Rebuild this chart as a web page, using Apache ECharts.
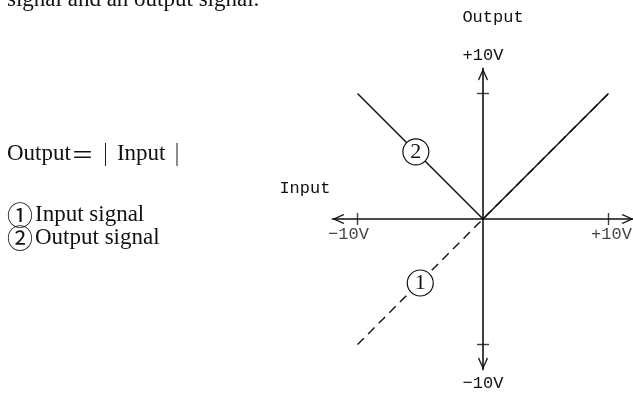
<!DOCTYPE html>
<html>
<head>
<meta charset="utf-8">
<script src="https://cdn.jsdelivr.net/npm/echarts@6/dist/echarts.min.js"></script>
<style>
    html, body { margin: 0; padding: 0; background: #fff; }
    #main { width: 633px; height: 394px; }
</style>
</head>
<body>
<div id="main"></div>
<script>
// 数据
const inputX = [-10, 0, 10]
const inputY = [-10, 0, 10]
const outputX = [-10, 0, 10]
const outputY = [10, 0, 10]
const tickValues = [-10, 10]
const xTickLabels = ['−10V', '+10V']
const xName = 'Input'
const yName = 'Output'
const yTopLabel = '+10V'
const yBottomLabel = '−10V'
const markerX = [-5.0, -5.35]
const markerY = [-5.1, 5.35]
const markerText = ['1', '2']
const noteLines = ['signal and an output signal.', 'Output＝｜Input｜', '①Input signal', '②Output signal']
const noteY = [0, 154, 215, 238]

const ink = '#111'
const mono = '"Liberation Mono", "DejaVu Sans Mono", monospace'
const serif = '"Liberation Serif", "Noto Sans CJK SC", serif'
const cjk = '"Noto Sans CJK SC", sans-serif'
// 开口箭头
const arrow = 'path://M5,0 L10,11 L9,12 L5,3 L1,12 L0,11 Z'

function zip(xs, ys) {
    return xs.map((x, i) => [x, ys[i]])
}

// 圆圈数字用大一点的中文字体
function richNote(t) {
    return t.replace(/([①②])/g, '{c|$1}').replace(/([＝｜])/g, '{w|$1}')
}

;(function () {
    let chart = echarts.init(document.getElementById('main'))
    // 坐标轴公共样式
    let baseAxis = {
        type: 'value',
        min: -12,
        max: 12,
        splitLine: { show: false },
        axisLabel: { show: false },
        axisTick: { show: false }
    }
    let mainLine = {
        show: true,
        onZero: true,
        onZeroAxisIndex: 0,
        symbol: [arrow, arrow],
        symbolSize: [10, 12],
        symbolOffset: [6, -6],
        lineStyle: { color: ink, width: 1.6 }
    }
    let nameOnly = { show: false, onZero: true, onZeroAxisIndex: 1 }
    let option = {
        animation: false,
        grid: {
            left: 332.4,
            top: 68.4,
            width: 301.2,
            height: 301.2,
            containLabel: false,
            outerBoundsMode: 'none'
        },
        xAxis: [
            Object.assign({}, baseAxis, { axisLine: mainLine }),
            Object.assign({}, baseAxis, {
                axisLine: nameOnly,
                name: xName,
                nameLocation: 'start',
                nameGap: 2,
                nameTextStyle: {
                    color: ink,
                    fontFamily: mono,
                    fontSize: 17,
                    lineHeight: 20,
                    verticalAlign: 'bottom',
                    padding: [0, 0, 21, 0]
                }
            })
        ],
        yAxis: [
            Object.assign({}, baseAxis, {
                axisLine: mainLine,
                name: '{a|' + yName + '}\n{b|' + yTopLabel + '}',
                nameLocation: 'end',
                nameGap: 3,
                nameTextStyle: {
                    rich: {
                        a: { fontFamily: mono, fontSize: 17, color: ink, lineHeight: 55, padding: [0, 0, 0, 20] },
                        b: { fontFamily: mono, fontSize: 17, color: ink, lineHeight: 20 }
                    }
                }
            }),
            Object.assign({}, baseAxis, {
                axisLine: nameOnly,
                name: yBottomLabel,
                nameLocation: 'start',
                nameGap: 4,
                nameTextStyle: {
                    color: ink,
                    fontFamily: mono,
                    fontSize: 17,
                    lineHeight: 20
                }
            })
        ],
        // 左侧说明文字
        graphic: noteLines.map((t, i) => ({
            type: 'text',
            x: 7,
            y: noteY[i],
            style: {
                text: richNote(t),
                font: '23px ' + serif,
                fill: ink,
                verticalAlign: 'middle',
                rich: {
                    c: { fontFamily: cjk, fontSize: 26, fill: ink, padding: [0, 2, 0, 0] },
                    w: { fontFamily: cjk, fontSize: 23, fill: ink }
                }
            }
        })),
        series: [
            {
                name: 'Input signal',
                type: 'line',
                data: zip(inputX, inputY),
                symbol: 'none',
                z: 2,
                lineStyle: { color: ink, width: 1.4, type: [9, 6] }
            },
            {
                name: 'Output signal',
                type: 'line',
                data: zip(outputX, outputY),
                symbol: 'none',
                z: 3,
                lineStyle: { color: ink, width: 1.5 }
            },
            {
                // x 轴刻度(十字) + 标签
                type: 'scatter',
                data: tickValues.map((v, i) => [v, 0, xTickLabels[i]]),
                symbol: 'rect',
                symbolSize: [1.4, 12],
                z: 5,
                itemStyle: { color: ink },
                label: {
                    show: true,
                    position: 'bottom',
                    distance: 1,
                    formatter: p => (p.data[0] < 0 ? '{l|' : '{r|') + p.data[2] + '}',
                    rich: {
                        l: { fontFamily: mono, fontSize: 17, color: ink, padding: [0, 18, 0, 0] },
                        r: { fontFamily: mono, fontSize: 17, color: ink, padding: [0, 0, 0, 6] }
                    }
                }
            },
            {
                // y 轴刻度(十字)
                type: 'scatter',
                data: tickValues.map(v => [0, v]),
                symbol: 'rect',
                symbolSize: [12, 1.4],
                z: 5,
                itemStyle: { color: ink }
            },
            {
                // 圆圈编号
                type: 'scatter',
                data: markerX.map((x, i) => [x, markerY[i], markerText[i]]),
                symbol: 'circle',
                symbolSize: 26,
                z: 6,
                itemStyle: { color: '#fff', borderColor: ink, borderWidth: 1.2, opacity: 1 },
                label: {
                    show: true,
                    position: 'inside',
                    formatter: p => p.data[2],
                    color: ink,
                    fontFamily: serif,
                    fontSize: 22
                }
            }
        ]
    }
    chart.setOption(option)
    window.addEventListener('resize', function () {
        chart.resize()
    })
})()
</script>
</body>
</html>
